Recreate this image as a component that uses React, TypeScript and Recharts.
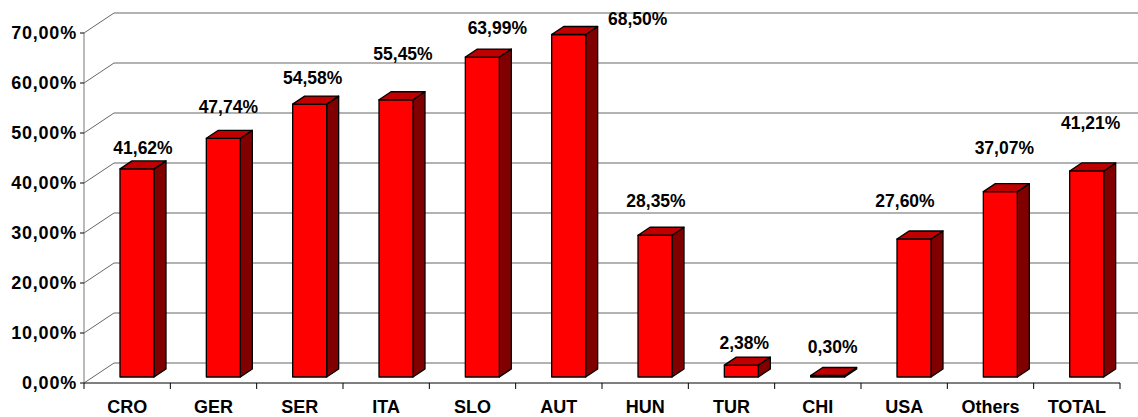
import { BarChart, Bar, XAxis, YAxis, CartesianGrid, LabelList } from 'recharts';

const countries = ['CRO', 'GER', 'SER', 'ITA', 'SLO', 'AUT', 'HUN', 'TUR', 'CHI', 'USA', 'Others', 'TOTAL'];
const shares = [41.62, 47.74, 54.58, 55.45, 63.99, 68.5, 28.35, 2.38, 0.3, 27.6, 37.07, 41.21];
const yTicks = [0, 10, 20, 30, 40, 50, 60, 70];

// hand placed labels in the original, nudges [dx, dy] from the default spot
const labelNudge = [
  [6, -13], [5, -23], [3, -18], [7, -38], [15, -21], [69, -8],
  [1, -26], [3, -14], [5, -21], [-9, -30], [4, -36], [4, -40],
];

const data = countries.map((c, i) => ({ name: c, value: shares[i] }));

const FONT = '"Liberation Sans", Arial, sans-serif';
// 3d look
const WALL_DX = 30;
const WALL_DY = 20;
const BAR_DX = 10; // bar front sits a bit back from the axis
const BAR_DY = 6;
const DEPTH_X = 12;
const DEPTH_Y = 8;

const pct = (v: number) => `${v.toFixed(2).replace('.', ',')}%`;

function Bar3D(props: any) {
  const { x, y, width, height } = props;
  const fx = x + BAR_DX;
  const fy = y - BAR_DY;
  const h = Math.max(height, 0);
  const top = `${fx},${fy} ${fx + DEPTH_X},${fy - DEPTH_Y} ${fx + width + DEPTH_X},${fy - DEPTH_Y} ${fx + width},${fy}`;
  const side = `${fx + width},${fy} ${fx + width + DEPTH_X},${fy - DEPTH_Y} ${fx + width + DEPTH_X},${fy + h - DEPTH_Y} ${fx + width},${fy + h}`;
  return (
    <g stroke="#000" strokeWidth={1.3} strokeLinejoin="round">
      <polygon points={side} fill="#800000" />
      <rect x={fx} y={fy} width={width} height={h} fill="#ff0000" />
      <polygon points={top} fill="#c00000" />
    </g>
  );
}

function GridLine(props: any) {
  const { x1, y1, x2 } = props;
  return (
    <g key={props.key} stroke="#666" strokeWidth={1}>
      <line x1={x1} y1={y1} x2={x1 + WALL_DX} y2={y1 - WALL_DY} />
      <line x1={x1 + WALL_DX} y1={y1 - WALL_DY} x2={x2 + WALL_DX} y2={y1 - WALL_DY} />
    </g>
  );
}

function CategoryTick(props: any) {
  const { x, y, payload, index } = props;
  const half = payload.offset ?? 0;
  return (
    <g>
      <line x1={x - half} y1={y} x2={x - half} y2={y + 6} stroke="#000" />
      {index === countries.length - 1 && (
        <line x1={x + half} y1={y} x2={x + half} y2={y + 6} stroke="#000" />
      )}
      <text x={x} y={y + 30} textAnchor="middle" fontFamily={FONT} fontWeight="bold" fontSize={18} fill="#000">
        {payload.value}
      </text>
    </g>
  );
}

function ValueLabel(props: any) {
  const { x, y, width, value, index } = props;
  const [dx, dy] = labelNudge[index] || [0, 0];
  return (
    <text
      x={x + BAR_DX + width / 2 + dx}
      y={y - BAR_DY - DEPTH_Y + dy}
      textAnchor="middle"
      dominantBaseline="central"
      fontFamily={FONT}
      fontWeight="bold"
      fontSize={17.5}
      fill="#000"
    >
      {pct(value)}
    </text>
  );
}

export default function App() {
  return (
    <div style={{ position: 'absolute', left: 0, top: 0, background: '#fff' }}>
      <BarChart width={1138} height={417} data={data} margin={{ top: 33, right: 18, bottom: 0, left: 0 }}>
        <CartesianGrid vertical={false} horizontal={GridLine} />
        <XAxis
          dataKey="name"
          height={34}
          tickLine={false}
          tickSize={0}
          tickMargin={0}
          axisLine={{ stroke: '#000' }}
          tick={CategoryTick}
          interval={0}
        />
        <YAxis
          width={84}
          domain={[0, 70]}
          ticks={yTicks}
          tickFormatter={pct}
          tickSize={4}
          tickMargin={3}
          axisLine={{ stroke: '#777' }}
          tickLine={{ stroke: '#000' }}
          tick={{ fontFamily: FONT, fontWeight: 'bold', fontSize: 18, fill: '#000', letterSpacing: 0.8 }}
          interval={0}
        />
        <Bar dataKey="value" barSize={34} shape={Bar3D} isAnimationActive={false}>
          <LabelList dataKey="value" content={ValueLabel} />
        </Bar>
      </BarChart>
    </div>
  );
}
